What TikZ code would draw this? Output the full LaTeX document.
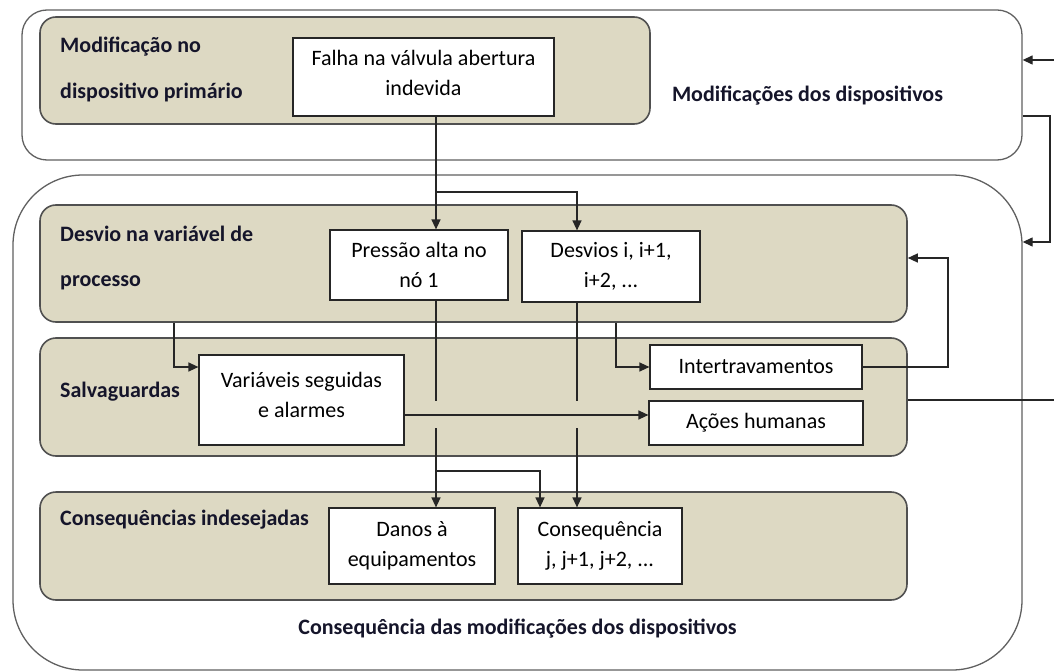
\documentclass[tikz,border=0pt]{standalone}
\usepackage{fontspec}
\setmainfont{Carlito}
\usetikzlibrary{arrows.meta}
\definecolor{bandfill}{HTML}{DDD9C3}
\definecolor{banddraw}{HTML}{505050}
\definecolor{outerdraw}{HTML}{606060}
\definecolor{lblcol}{HTML}{15152A}
\tikzset{
  outerbox/.style={draw=outerdraw, line width=1.3pt, fill=white, inner sep=0pt},
  band/.style={draw=banddraw, line width=1.6pt, fill=bandfill, rounded corners=16pt, inner sep=0pt},
  wbox/.style={draw=black!85, line width=1.2pt, fill=white, inner sep=0pt, align=center,
    font=\fontsize{22}{30}\selectfont},
  wtxt/.style={inner sep=0pt, align=center, font=\fontsize{22}{30}\selectfont},
  lbl/.style={anchor=west, inner sep=0pt, text=lblcol, font=\fontsize{22}{26}\selectfont\bfseries},
  conn/.style={draw=black!85, line width=1.3pt},
  arr/.style={conn, -{Triangle[length=10pt,width=9pt]}},
}
\begin{document}
\begin{tikzpicture}[x=1pt,y=-1pt]
\useasboundingbox (0,0) rectangle (1054,671);
% outer containers
\node[outerbox, rounded corners=25pt, minimum width=1000pt, minimum height=150pt] (top) at (522,85) {};
\node[outerbox, rounded corners=70pt, minimum width=1009pt, minimum height=495pt] (low) at (517.5,422.5) {};
% bands
\node[band, minimum width=610pt, minimum height=107pt] (b1) at (345,70.5) {};
\node[band, minimum width=867pt, minimum height=117pt] (b2) at (473.5,263.5) {};
\node[band, minimum width=867pt, minimum height=118pt] (b3) at (473.5,397) {};
\node[band, minimum width=867pt, minimum height=108pt] (b4) at (473.5,546) {};
% band labels
\node[lbl] (l1a) at (60,47) {Modificação no};
\node[lbl] (l1b) at (60,92) {dispositivo primário};
\node[lbl] (l2a) at (60,234) {Desvio na variável de};
\node[lbl] (l2b) at (60,283) {processo};
\node[lbl] (l3) at (60,392) {Salvaguardas};
\node[lbl] (l4) at (60,520) {Consequências indesejadas};
\node[lbl, anchor=center] (ttop) at (807.5,96) {Modificações dos dispositivos};
\node[lbl, anchor=center] (tlow) at (517.5,629) {Consequência das modificações dos dispositivos};
% white boxes
\node[wbox, minimum width=261pt, minimum height=78pt] (falha) at (423.5,77) {};
\node[wtxt] (falhaT) at (423.5,73) {Falha na válvula abertura\\indevida};
\node[wbox, minimum width=178pt, minimum height=70pt] (press) at (419,265) {Pressão alta no\\nó 1};
\node[wbox, minimum width=178pt, minimum height=71pt] (desv) at (611,266.5) {Desvios i, i+1,\\i+2, ...};
\node[wbox, minimum width=205pt, minimum height=90pt] (var) at (301.5,400) {};
\node[wtxt] (varT) at (301.5,395) {Variáveis seguidas\\e alarmes};
\node[wbox, minimum width=212pt, minimum height=44pt] (inter) at (756,367) {Intertravamentos};
\node[wbox, minimum width=214pt, minimum height=44pt] (acoes) at (756,423) {Ações humanas};
\node[wbox, minimum width=166pt, minimum height=76pt] (danos) at (412,546) {Danos à\\equipamentos};
\node[wbox, minimum width=164pt, minimum height=76pt] (cons) at (600,546) {Consequência\\j, j+1, j+2, ...};
% helper coordinates
\coordinate (xA) at (436,0);
\coordinate (xB) at (577,0);
\coordinate (xC) at (540,0);
\coordinate (xD) at (174,0);
\coordinate (xE) at (616,0);
\coordinate (j1) at (436,192);
\coordinate (j2) at (436,471);
\coordinate (yV) at (0,367);
\coordinate (yH) at (0,415);
\coordinate (gapA1) at (436,401);
\coordinate (gapA2) at (436,428);
\coordinate (gapB1) at (577,401);
\coordinate (gapB2) at (577,428);
\coordinate (cF) at (948,258);
\coordinate (eS) at (1054,400);
\coordinate (eT) at (1054,60);
\coordinate (yT2) at (0,116);
\coordinate (cG) at (1050,242);
% connectors
\draw[arr] (falha.south -| xA) -- (press.north -| xA);
\draw[arr] (j1) -| (desv.north -| xB);
\draw[conn] (press.south -| xA) -- (gapA1);
\draw[arr] (gapA2) -- (danos.north -| xA);
\draw[conn] (desv.south -| xB) -- (gapB1);
\draw[arr] (gapB2) -- (cons.north -| xB);
\draw[arr] (j2) -| (cons.north -| xC);
\draw[arr] (b2.south -| xD) |- (var.west |- yV);
\draw[arr] (b2.south -| xE) |- (inter.west);
\draw[arr] (var.east |- yH) -- (acoes.west |- yH);
\draw[arr] (inter.east) -| (cF) -- (b2.east |- cF);
\draw[conn] (b3.east |- eS) -- (eS);
\draw[arr] (eT) -- (top.east |- eT);
\draw[arr] (top.east |- yT2) -| (cG) -- (low.east |- cG);
\end{tikzpicture}
\end{document}
